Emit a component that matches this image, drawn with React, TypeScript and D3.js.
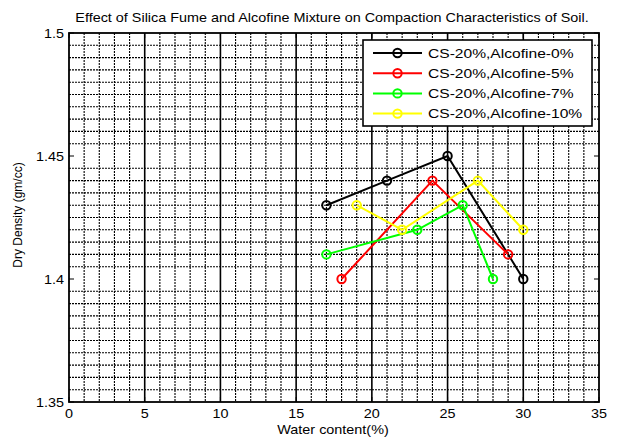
import React from 'react';
import * as d3 from 'd3';

// water content (%) and dry density (gm/cc)
const seriesNames = [
  'CS-20%,Alcofine-0%',
  'CS-20%,Alcofine-5%',
  'CS-20%,Alcofine-7%',
  'CS-20%,Alcofine-10%',
];
const seriesColors = ['#000000', '#ff0000', '#00ff00', '#ffff00'];

const water0 = [17, 21, 25, 30];
const density0 = [1.43, 1.44, 1.45, 1.40];
const water5 = [18, 24, 29];
const density5 = [1.40, 1.44, 1.41];
const water7 = [17, 23, 26, 28];
const density7 = [1.41, 1.42, 1.43, 1.40];
const water10 = [19, 22, 27, 30];
const density10 = [1.43, 1.42, 1.44, 1.42];

const xTicks = [0, 5, 10, 15, 20, 25, 30, 35];
const yTicks = [1.35, 1.4, 1.45, 1.5];
const yTickLabels = ['1.35', '1.4', '1.45', '1.5'];

const W = 618;
const H = 439;
const font = '"Liberation Sans", Arial, sans-serif';
const sx = 1.2; // text in the source image is stretched sideways

const App: React.FC = () => {
  const svgRef = React.useRef<SVGSVGElement>(null);

  React.useEffect(() => {
    const svg = d3.select(svgRef.current);
    svg.selectAll('*').remove();

    const x = d3.scaleLinear().domain([0, 35]).range([69, 599]);
    const y = d3.scaleLinear().domain([1.35, 1.5]).range([402, 33]);
    const [x0, x1] = x.range();
    const [y0, y1] = y.range();

    const addText = (
      str: string, tx: number, ty: number, size: number,
      anchor: string, rotate = 0, stretch = sx
    ) => {
      svg.append('text')
        .attr('transform', `translate(${tx},${ty}) rotate(${rotate}) scale(${rotate ? 1 : stretch},1)`)
        .attr('font-family', font)
        .attr('font-size', size)
        .attr('text-anchor', anchor)
        .attr('fill', '#000')
        .text(str);
    };

    svg.append('rect')
      .attr('width', W).attr('height', H).attr('fill', '#fff');

    // minor grid
    const g = svg.append('g');
    d3.range(1, 35).filter(v => v % 5 !== 0).forEach(v => {
      g.append('line')
        .attr('x1', x(v)).attr('x2', x(v)).attr('y1', y1).attr('y2', y0)
        .attr('stroke', '#000').attr('stroke-width', 1.1)
        .attr('stroke-dasharray', '2,1');
    });
    d3.range(1, 30).map(i => 1.35 + i * 0.005)
      .filter((v, i) => (i + 1) % 10 !== 0)
      .forEach(v => {
        g.append('line')
          .attr('x1', x0).attr('x2', x1).attr('y1', y(v)).attr('y2', y(v))
          .attr('stroke', '#000').attr('stroke-width', 1.1)
          .attr('stroke-dasharray', '2,1');
      });
    // major verticals
    xTicks.slice(1, -1).forEach(v => {
      g.append('line')
        .attr('x1', x(v)).attr('x2', x(v)).attr('y1', y1).attr('y2', y0)
        .attr('stroke', '#000').attr('stroke-width', 1.6);
    });

    // axes box + ticks
    svg.append('rect')
      .attr('x', x0).attr('y', y1).attr('width', x1 - x0).attr('height', y0 - y1)
      .attr('fill', 'none').attr('stroke', '#000').attr('stroke-width', 1.8);
    yTicks.forEach(v => {
      svg.append('line').attr('x1', x0).attr('x2', x0 + 5).attr('y1', y(v)).attr('y2', y(v))
        .attr('stroke', '#000');
      svg.append('line').attr('x1', x1).attr('x2', x1 - 5).attr('y1', y(v)).attr('y2', y(v))
        .attr('stroke', '#000');
    });
    xTicks.forEach(v => {
      svg.append('line').attr('x1', x(v)).attr('x2', x(v)).attr('y1', y0).attr('y2', y0 - 5)
        .attr('stroke', '#000');
      svg.append('line').attr('x1', x(v)).attr('x2', x(v)).attr('y1', y1).attr('y2', y1 + 5)
        .attr('stroke', '#000');
    });

    // tick labels
    yTicks.forEach((v, i) => addText(yTickLabels[i], 64, y(v) + 4.5, 12, 'end'));
    xTicks.forEach(v => addText(String(v), x(v), 418, 12, 'middle'));

    // titles
    addText('Effect of Silica Fume and Alcofine Mixture on Compaction Characteristics of Soil.',
      332, 22, 12, 'middle');
    addText('Water content(%)', 333, 434, 12, 'middle');
    addText('Dry Density (gm/cc)', 22, 215, 12, 'middle', -90);

    // series
    const xs = [water0, water5, water7, water10];
    const ys = [density0, density5, density7, density10];
    const line = d3.line<[number, number]>().x(d => x(d[0])).y(d => y(d[1]));
    xs.forEach((wx, k) => {
      const pts = wx.map((v, i) => [v, ys[k][i]] as [number, number]);
      svg.append('path')
        .attr('d', line(pts))
        .attr('fill', 'none')
        .attr('stroke', seriesColors[k])
        .attr('stroke-width', 2);
      svg.selectAll(null)
        .data(pts)
        .join('circle')
        .attr('cx', d => x(d[0]))
        .attr('cy', d => y(d[1]))
        .attr('r', 4.2)
        .attr('fill', 'none')
        .attr('stroke', seriesColors[k])
        .attr('stroke-width', 2);
    });

    // legend
    const lg = svg.append('g');
    lg.append('rect')
      .attr('x', 363).attr('y', 40).attr('width', 229).attr('height', 86)
      .attr('fill', '#fff').attr('stroke', '#000').attr('stroke-width', 1.6);
    seriesNames.forEach((name, k) => {
      const ly = 53 + k * 20.2;
      lg.append('line')
        .attr('x1', 373).attr('x2', 422).attr('y1', ly).attr('y2', ly)
        .attr('stroke', seriesColors[k]).attr('stroke-width', 2);
      lg.append('circle')
        .attr('cx', 397.5).attr('cy', ly).attr('r', 4.2)
        .attr('fill', 'none').attr('stroke', seriesColors[k]).attr('stroke-width', 2);
      lg.append('text')
        .attr('transform', `translate(428,${ly + 4.8}) scale(${sx},1)`)
        .attr('font-family', font)
        .attr('font-size', 13)
        .text(name);
    });
  }, []);

  return (
    <div style={{ position: 'absolute', left: 0, top: 0 }}>
      <svg ref={svgRef} width={W} height={H} style={{ display: 'block' }} />
    </div>
  );
};

export default App;
